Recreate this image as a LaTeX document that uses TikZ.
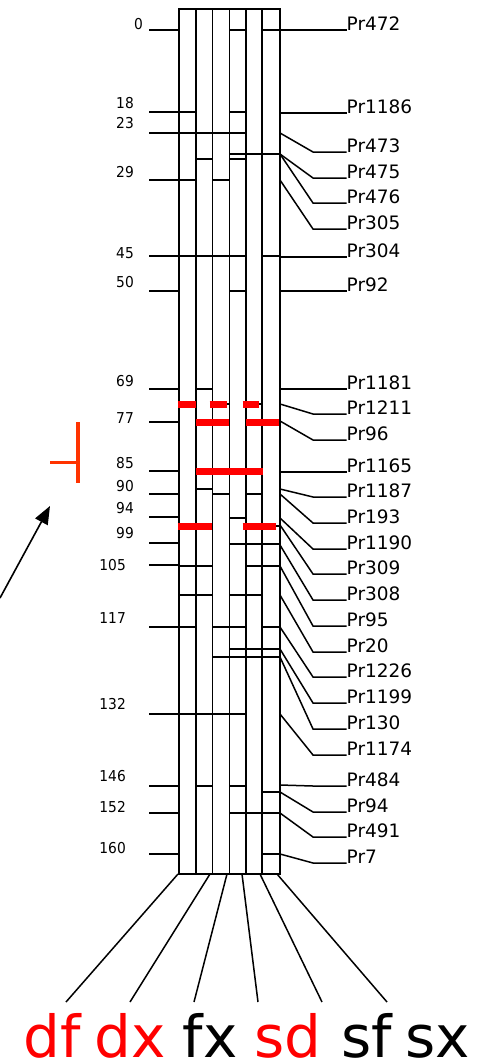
\documentclass[tikz,border=0pt]{standalone}
\usepackage{fontspec}
\setmainfont{DejaVu Sans}
\newfontfamily\ticklabfont[FakeStretch=0.92]{DejaVu Sans}
\usetikzlibrary{arrows.meta}
\definecolor{barred}{RGB}{255,0,0}
\definecolor{markred}{RGB}{255,51,0}
\begin{document}
\begin{tikzpicture}[x=1pt,y=-1pt,
  colline/.style={line width=1.6pt},
  seg/.style={line width=1.6pt, line cap=rect},
  conn/.style={line width=1.5pt},
  redbar/.style={draw=barred, line width=7pt},
  ticklab/.style={anchor=base east, inner sep=0pt, font=\ticklabfont\fontsize{15}{15}\selectfont},
  prlab/.style={anchor=base west, inner sep=0pt, font=\fontsize{18.5}{18.5}\selectfont},
  grouplab/.style={anchor=base, inner sep=0pt, text depth=0pt, font=\fontsize{58}{58}\selectfont}]
\useasboundingbox (0,0) rectangle (486,1063);

% columns
\draw[colline] (179,9) rectangle (280,874);
\foreach \x in {195.7,212.3,229.3,245.8,262}
  \draw[colline] (\x,9) -- (\x,874);

% left ticks
\foreach \y in {30,112,133,180,256,291,389,422,471,494,517,543,565,627,714,786,813,854}
  \draw[seg] (150,\y) -- (179,\y);

% inner segments (y, x1, x2)
\foreach \y/\xa/\xb in {
  30/229.3/245.8, 30/262/280,
  112/179/195.7, 112/229.3/245.8,
  133/179/245.8,
  154/229.3/280,
  159/195.7/212.3, 159/229.3/245.8,
  180/179/195.7, 180/212.3/229.3,
  256/179/245.8, 256/262/280,
  291/229.3/245.8,
  389/195.7/212.3,
  404/179/195.7, 404/212.3/229.3, 404/245.8/262,
  422/195.7/229.3, 422/245.8/280,
  471/195.7/262,
  489/195.7/212.3,
  494/212.3/229.3, 494/245.8/262,
  518/229.3/245.8,
  526/179/212.3, 526/245.8/280,
  544/229.3/280,
  566/179/212.3, 566/245.8/280,
  595/179/212.3, 595/229.3/262,
  627/179/195.7, 627/212.3/245.8, 627/262/280,
  649/229.3/280,
  657/212.3/280,
  714/179/245.8,
  786/195.7/212.3, 786/229.3/245.8,
  792/262/280,
  813/229.3/280,
  854/262/280}
  \draw[seg] (\xa,\y) -- (\xb,\y);

% red bars
\foreach \y/\xa/\xb in {
  404/178.3/195.7, 404/209.7/226.7, 404/242.7/259.3,
  422.5/195.7/229.3, 422.5/245.7/279,
  471/195.7/263.3,
  526.5/178.3/212.3, 526.5/242.7/276}
  \draw[redbar] (\xa,\y) -- (\xb,\y);

% left tick labels
\foreach \t/\x/\y in {0/143/29, 18/134/108, 23/134/128, 29/134/177, 45/134/258,
  50/134/287, 69/134/386, 77/134/423, 85/134/468, 90/134/491, 94/134/513,
  99/134/538, 105/126/570, 117/126/623, 132/126/709, 146/126/781,
  152/126/812, 160/126/853}
  \node[ticklab] (t\t) at (\x,\y) {\t};

% right marker labels and connectors
\foreach \ys/\ye/\n in {
  30/30/Pr472, 113/113/Pr1186, 133/152/Pr473, 154/178/Pr475, 154/203/Pr476,
  180/229/Pr305, 257/257/Pr304, 291/291/Pr92, 389/389/Pr1181, 404/414/Pr1211,
  421/440/Pr96, 472/472/Pr1165, 489/497/Pr1187, 494/523/Pr193, 518/549/Pr1190,
  525/574/Pr309, 545/600/Pr308, 566/626/Pr95, 595/652/Pr20, 627/677/Pr1226,
  649/703/Pr1199, 657/729/Pr130, 714/755/Pr1174, 785/786/Pr484, 792/812/Pr94,
  813/837/Pr491, 854/863/Pr7}
{
  \node[prlab] (\n) at (346.5,\ye) {\n};
  \coordinate (s\n) at (280,\ys);
  \coordinate (k\n) at (313,\ye);
  \draw[conn] (s\n) -- (k\n) -- (\n.base west);
}

% bottom fan and group labels
\foreach \i/\xs/\xe/\xl/\lab/\col in {
  1/178/66/52/df/barred, 2/210/130/130/dx/barred, 3/227/194/210/fx/black,
  4/242/258/288/sd/barred, 5/260/322/367/sf/black, 6/277/387/438/sx/black}
{
  \coordinate (b\i) at (\xs,874);
  \coordinate (e\i) at (\xe,1002);
  \draw[conn] (b\i) -- (e\i);
  \node[grouplab, text=\col] (g\i) at (\xl,1057) {\lab};
}

% red marker and arrow
\coordinate (mt) at (78,422);
\coordinate (mb) at (78,483);
\coordinate (mm) at (78,462);
\coordinate (ml) at (50,462);
\draw[markred, line width=4pt] (mt) -- (mb);
\draw[markred, line width=3pt] (ml) -- (mm);
\coordinate (arrS) at (0,598);
\coordinate (arrT) at (50,506);
\draw[line width=1.6pt, -{Triangle[length=18pt,width=14pt]}] (arrS) -- (arrT);
\end{tikzpicture}
\end{document}
